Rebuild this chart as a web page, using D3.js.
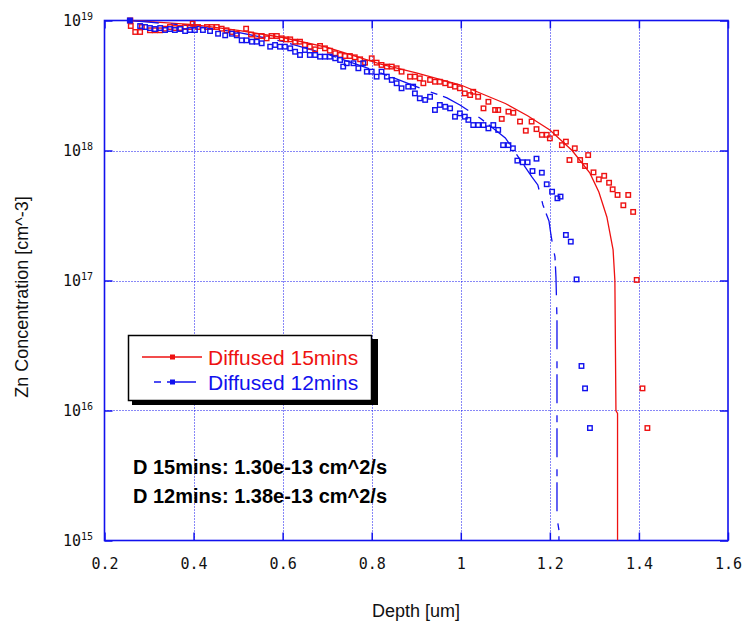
<!DOCTYPE html>
<html><head><meta charset="utf-8">
<script src="https://cdn.jsdelivr.net/npm/d3@7"></script>
<style>body{margin:0;background:#fff} svg{display:block}</style>
</head><body><svg id="c" width="742" height="630"></svg>
<script>
// ---- data ----
const xTicks = [0.2, 0.4, 0.6, 0.8, 1.0, 1.2, 1.4, 1.6];
const xTickLabels = ["0.2", "0.4", "0.6", "0.8", "1", "1.2", "1.4", "1.6"];
const yTicks = [1e15, 1e16, 1e17, 1e18, 1e19];
const yTickExp = ["15", "16", "17", "18", "19"];

const seriesNames = ["Diffused 15mins", "Diffused 12mins"];
const annotations = ["D 15mins: 1.30e-13 cm^2/s", "D 12mins: 1.38e-13 cm^2/s"];

const redDepth = [
  0.259,0.269,0.280,0.284,0.302,0.313,0.325,0.336,0.347,0.358,
  0.370,0.381,0.392,0.398,0.410,0.430,0.441,0.452,0.463,0.474,
  0.486,0.497,0.518,0.529,0.542,0.553,0.564,0.575,0.587,0.598,
  0.608,0.617,0.628,0.639,0.650,0.661,0.673,0.684,0.695,0.706,
  0.718,0.729,0.740,0.751,0.762,0.774,0.785,0.800,0.811,0.822,
  0.834,0.845,0.856,0.867,0.886,0.897,0.908,0.916,0.931,0.942,
  0.953,0.965,0.976,0.987,0.998,1.009,1.021,1.028,1.039,1.051,
  1.062,1.077,1.084,1.092,1.107,1.118,1.133,1.146,1.159,1.170,
  1.182,1.193,1.200,1.214,1.227,1.236,1.244,1.256,1.268,1.279,
  1.286,1.298,1.310,1.322,1.333,1.341,1.352,1.365,1.376,1.387,
  1.395,1.408,1.419];
const redConc = [
  9.07e18,8.16e18,8.16e18,8.91e18,8.41e18,8.41e18,8.41e18,8.65e18,8.91e18,8.75e18,
  8.75e18,8.91e18,8.91e18,9.45e18,8.91e18,8.91e18,8.91e18,8.91e18,8.65e18,8.41e18,
  8.16e18,7.91e18,8.65e18,7.80e18,7.60e18,7.60e18,7.29e18,7.60e18,7.60e18,7.29e18,
  7.16e18,7.16e18,6.87e18,6.87e18,6.48e18,6.29e18,6.00e18,6.37e18,6.11e18,5.86e18,
  5.60e18,5.43e18,5.33e18,5.33e18,5.21e18,5.03e18,4.74e18,5.12e18,4.74e18,4.55e18,
  4.42e18,4.42e18,4.29e18,4.04e18,3.70e18,3.70e18,3.59e18,3.29e18,3.49e18,3.38e18,
  3.38e18,3.29e18,3.19e18,3.10e18,3.01e18,2.75e18,2.67e18,2.83e18,2.59e18,2.11e18,
  2.37e18,2.05e18,2.05e18,1.75e18,1.99e18,1.95e18,1.67e18,1.42e18,1.67e18,1.46e18,
  1.32e18,1.32e18,1.24e18,1.37e18,1.10e18,1.17e18,8.45e17,1.04e18,8.45e17,7.60e17,
  9.22e17,6.79e17,6.00e17,6.39e17,5.65e17,5.03e17,4.55e17,3.79e17,4.55e17,3.37e17,
  1.01e17,1.48e16,7.33e15];

const blueDepth = [
  0.280,0.291,0.302,0.313,0.325,0.336,0.347,0.358,0.370,0.381,
  0.392,0.403,0.421,0.437,0.455,0.471,0.486,0.497,0.508,0.519,
  0.531,0.542,0.553,0.572,0.583,0.594,0.605,0.617,0.628,0.639,
  0.650,0.661,0.673,0.684,0.695,0.706,0.718,0.729,0.736,0.744,
  0.759,0.770,0.781,0.789,0.800,0.811,0.822,0.834,0.845,0.856,
  0.867,0.882,0.893,0.897,0.908,0.920,0.931,0.942,0.953,0.965,
  0.976,0.987,0.998,1.009,1.017,1.028,1.039,1.051,1.062,1.073,
  1.084,1.095,1.107,1.117,1.127,1.139,1.150,1.161,1.170,1.182,
  1.193,1.205,1.217,1.224,1.236,1.247,1.260,1.271,1.279,1.290];
const blueConc = [
  9.07e18,8.91e18,8.75e18,8.60e18,8.75e18,8.45e18,8.60e18,8.45e18,8.60e18,8.30e18,
  8.45e18,8.45e18,8.45e18,8.30e18,7.91e18,7.69e18,7.91e18,7.69e18,7.04e18,7.04e18,
  6.87e18,6.87e18,6.68e18,6.29e18,6.48e18,6.29e18,6.29e18,6.11e18,5.75e18,5.43e18,
  5.93e18,5.43e18,5.43e18,5.27e18,5.27e18,5.27e18,5.12e18,4.97e18,4.42e18,4.69e18,
  4.69e18,4.29e18,4.69e18,4.04e18,4.04e18,3.70e18,4.04e18,3.70e18,3.49e18,3.29e18,
  3.01e18,3.10e18,3.10e18,2.75e18,2.52e18,2.45e18,2.59e18,2.05e18,2.24e18,2.17e18,
  2.11e18,1.82e18,1.93e18,1.82e18,1.72e18,1.57e18,1.57e18,1.57e18,1.48e18,1.57e18,
  1.44e18,1.10e18,1.10e18,1.04e18,8.36e17,8.12e17,8.12e17,6.95e17,8.65e17,6.75e17,
  5.50e17,4.82e17,4.29e17,4.42e17,2.24e17,1.99e17,1.02e17,2.20e16,1.48e16,7.33e15];

const redFitDepth = [0.258,0.30,0.40,0.50,0.60,0.70,0.82,0.90,1.00,1.10,1.15,1.20,1.25,1.29,1.31,1.328,1.342,1.346,1.3484,1.352,1.352];
const redFitConc  = [1.0e19,9.8e18,9.3e18,8.4e18,7.4e18,6.2e18,4.62e18,3.95e18,3.19e18,2.3e18,1.85e18,1.44e18,1.0e18,6.7e17,4.8e17,3.08e17,1.72e17,1.0e17,1.0e16,9.5e15,1.0e15];

const blueFitDepth = [0.257,0.30,0.40,0.50,0.60,0.70,0.80,0.92,0.969,0.998,1.043,1.10,1.16,1.173,1.1845,1.198,1.2025,1.207,1.2115,1.2137,1.216,1.216,1.2204,1.2204];
const blueFitConc  = [1.0e19,9.7e18,9.1e18,8.1e18,6.9e18,5.5e18,4.2e18,2.92e18,2.54e18,2.24e18,1.78e18,1.25e18,6.25e17,5.43e17,3.81e17,2.87e17,2.24e17,1.81e17,1.52e17,1.06e17,5e16,1.5e15,1.2e15,1.0e15];

// ---- drawing ----
const RED = "#ee1111", BLUE = "#1111ee";
const svg = d3.select("#c");
const L = 104.5, R = 728, T = 20.5, B = 540.5;
const x = d3.scaleLinear().domain([0.2, 1.6]).range([L, R]);
const y = d3.scaleLog().domain([1e15, 1e19]).range([B, T]);

// grid (dotted)
const grid = svg.append("g").attr("stroke", BLUE).attr("stroke-width", 1).attr("stroke-dasharray", "1,2");
grid.selectAll("line.vx").data(xTicks.slice(1, -1)).join("line")
  .attr("x1", d => Math.round(x(d)) + 0.5).attr("x2", d => Math.round(x(d)) + 0.5).attr("y1", T).attr("y2", B);
grid.selectAll("line.hy").data(yTicks.slice(1, -1)).join("line")
  .attr("y1", d => Math.round(y(d)) + 0.5).attr("y2", d => Math.round(y(d)) + 0.5).attr("x1", L).attr("x2", R);

// axes with inward ticks
const tl = 8;
const axB = svg.append("g").attr("transform", `translate(0,${B})`)
  .call(d3.axisBottom(x).tickValues(xTicks).tickSize(-tl).tickFormat((d, i) => xTickLabels[i]));
const axT = svg.append("g").attr("transform", `translate(0,${T})`)
  .call(d3.axisTop(x).tickValues(xTicks).tickSize(-tl).tickFormat(""));
const axL = svg.append("g").attr("transform", `translate(${L},0)`)
  .call(d3.axisLeft(y).tickValues(yTicks).tickSize(-tl).tickFormat(""));
const axR = svg.append("g").attr("transform", `translate(${R},0)`)
  .call(d3.axisRight(y).tickValues(yTicks).tickSize(-tl).tickFormat(""));
[axB, axT, axL, axR].forEach(a => {
  a.select(".domain").remove();
  a.selectAll(".tick line").attr("stroke", BLUE).attr("stroke-width", 1.5);
});
axB.selectAll(".tick text").attr("dy", "1.7em").attr("fill", "#111")
  .style("font-family", "'DejaVu Sans Mono', monospace").style("font-size", "15px");

// frame
svg.append("rect").attr("x", L).attr("y", T).attr("width", R - L).attr("height", B - T)
  .attr("fill", "none").attr("stroke", BLUE).attr("stroke-width", 1.6);

// y tick labels 10^n
const yl = svg.append("g").style("font-family", "'DejaVu Sans Mono', monospace").attr("fill", "#111");
yTicks.forEach((v, i) => {
  const t = yl.append("text").attr("x", 93).attr("y", y(v) + 5).attr("text-anchor", "end");
  t.append("tspan").style("font-size", "15px").text("10");
  t.append("tspan").style("font-size", "10px").attr("dy", -6).text(yTickExp[i]);
});

// axis titles
svg.append("text").attr("x", 416).attr("y", 617).attr("text-anchor", "middle")
  .style("font-family", "'Liberation Sans', Arial, sans-serif").style("font-size", "18px").attr("fill", "#111")
  .text("Depth [um]");
svg.append("text").attr("transform", "translate(28,297) rotate(-90)").attr("text-anchor", "middle")
  .style("font-family", "'Liberation Sans', Arial, sans-serif").style("font-size", "18px").attr("fill", "#111")
  .text("Zn Concentration [cm^-3]");

// clip
svg.append("clipPath").attr("id", "pc").append("rect").attr("x", L).attr("y", T - 4).attr("width", R - L).attr("height", B - T + 4);

const line = d3.line().x(d => x(d[0])).y(d => y(d[1]));
const plot = svg.append("g").attr("clip-path", "url(#pc)");

// fit curves
plot.append("path").datum(redFitDepth.map((d, i) => [d, redFitConc[i]]))
  .attr("d", line).attr("fill", "none").attr("stroke", RED).attr("stroke-width", 1.3);
plot.append("path").datum(blueFitDepth.map((d, i) => [d, blueFitConc[i]]))
  .attr("d", line).attr("fill", "none").attr("stroke", BLUE).attr("stroke-width", 1.3)
  .attr("stroke-dasharray", "29,12,7,6");

// scatter (hollow squares)
const sq = 4.5;
function squares(depths, concs, color) {
  svg.append("g").selectAll("rect").data(depths.map((d, i) => [d, concs[i]])).join("rect")
    .attr("x", d => x(d[0]) - sq / 2).attr("y", d => y(d[1]) - sq / 2)
    .attr("width", sq).attr("height", sq)
    .attr("fill", "none").attr("stroke", color).attr("stroke-width", 1.4);
}
squares(redDepth, redConc, RED);
squares(blueDepth, blueConc, BLUE);

// fit start markers (filled)
svg.append("rect").attr("x", x(redFitDepth[0]) - 3).attr("y", y(redFitConc[0]) - 3).attr("width", 6).attr("height", 6).attr("fill", RED);
svg.append("rect").attr("x", x(blueFitDepth[0]) - 3).attr("y", y(blueFitConc[0]) - 3).attr("width", 6).attr("height", 6).attr("fill", BLUE);

// legend
const lg = svg.append("g");
lg.append("rect").attr("x", 132).attr("y", 339).attr("width", 246).attr("height", 66).attr("fill", "#000");
lg.append("rect").attr("x", 128.5).attr("y", 335.5).attr("width", 243).attr("height", 65).attr("fill", "#fff").attr("stroke", "#000").attr("stroke-width", 1.5);
const lgColors = [RED, BLUE];
const lgY = [357, 382];
lgColors.forEach((c, i) => {
  const ln = lg.append("line").attr("x1", 142).attr("x2", 202).attr("y1", lgY[i]).attr("y2", lgY[i])
    .attr("stroke", c).attr("stroke-width", 1.3);
  if (i === 1) ln.attr("stroke-dasharray", "29,12,7,6").attr("stroke-dashoffset", 29);
  lg.append("rect").attr("x", 170).attr("y", lgY[i] - 2.5).attr("width", 5).attr("height", 5).attr("fill", c);
  lg.append("text").attr("x", 208).attr("y", lgY[i] + 7.5).attr("fill", c)
    .style("font-family", "'Liberation Sans', Arial, sans-serif").style("font-size", "21px")
    .text(seriesNames[i]);
});

// annotations
annotations.forEach((t, i) => {
  svg.append("text").attr("x", 133).attr("y", 474 + i * 29).attr("fill", "#000")
    .style("font-family", "'Liberation Sans', Arial, sans-serif").style("font-size", "20px").style("font-weight", "bold")
    .text(t);
});
</script>
</body></html>
